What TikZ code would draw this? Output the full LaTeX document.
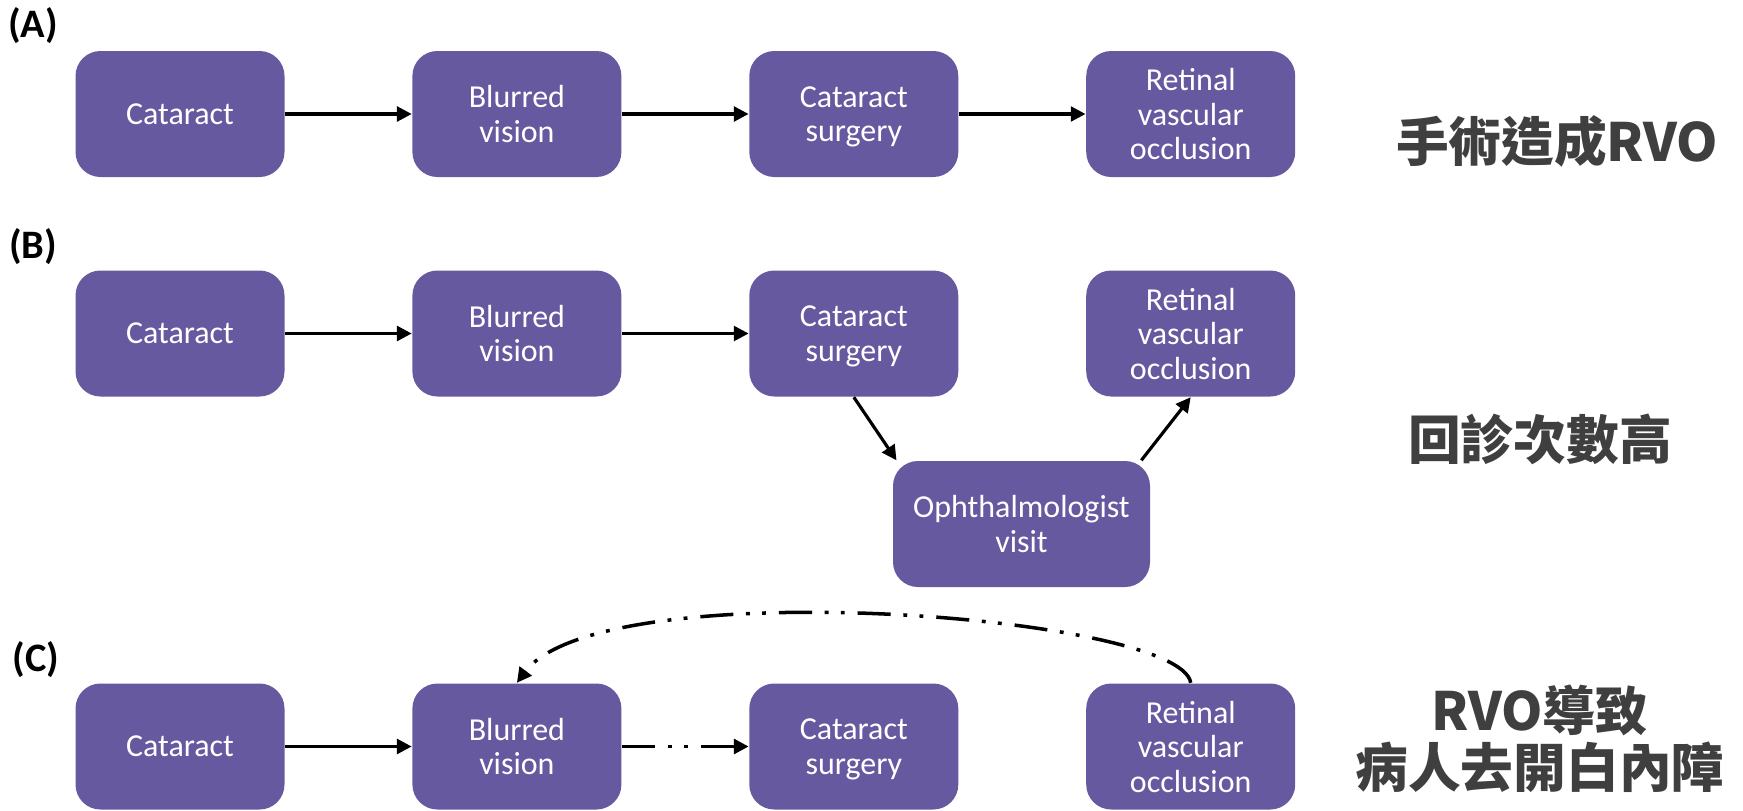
\documentclass[tikz,border=0pt]{standalone}
\usepackage{fontspec}
\setmainfont{Carlito}
\newfontfamily\cjk{Noto Sans CJK TC}
\usetikzlibrary{arrows.meta,calc,positioning}
\definecolor{boxpurple}{RGB}{103,89,159}
\definecolor{notegray}{RGB}{63,63,63}

\begin{document}
\begin{tikzpicture}[
  x=1cm,y=1cm,
  stepbox/.style={fill=boxpurple,rounded corners=2.5mm,
    minimum width=2.09cm,minimum height=1.26cm,inner sep=0pt,
    text depth=0pt,text=white,align=center,
    font=\fontsize{9.1}{9.8}\selectfont},
  flow/.style={-{Triangle[length=4.2pt,width=4.2pt]},line width=0.9pt,black},
  dashdotdot/.style={line width=1pt,dash pattern=on 9.4pt off 3.7pt
    on 1.1pt off 3.5pt on 1.1pt off 3.6pt},
  panel/.style={inner sep=0pt,font=\bfseries\fontsize{11.5}{13}\selectfont},
  note/.style={inner sep=0pt,align=center,text=notegray,
    font=\cjk\bfseries\fontsize{15}{16.2}\selectfont}
]
  \useasboundingbox (0,0) rectangle (17.43,8.10);

  % Box spacing.
  \def\boxgap{1.265cm}

  % The three chains, one per panel.
  \foreach \row/\ypos in {A/6.96,B/4.765,C/0.635}{
    \node[stepbox] (cat\row) at (1.80,\ypos) {Cataract};
    \node[stepbox,right=\boxgap of cat\row] (blur\row) {Blurred\\vision};
    \node[stepbox,right=\boxgap of blur\row] (surg\row) {Cataract\\surgery};
    \node[stepbox,right=\boxgap of surg\row] (rvo\row)
      {Retinal\\vascular\\occlusion};
  }
  \node[stepbox,minimum width=2.57cm] (oph) at (10.215,2.86)
    {Ophthalmologist\\visit};

  % Panel letters and notes.
  \node[panel] (labA) at (0.33,7.84) {(A)};
  \node[panel] (labB) at (0.33,5.63) {(B)};
  \node[panel] (labC) at (0.36,1.50) {(C)};
  \node[note] (noteA) at (15.57,6.69) {手術造成RVO};
  \node[note] (noteB) at (15.40,3.71) {回診次數高};
  \node[note] (noteC) at (15.40,0.71) {RVO導致\\病人去開白內障};

  % (A) surgery before the occlusion.
  \draw[flow] (catA) -- (blurA);
  \draw[flow] (blurA) -- (surgA);
  \draw[flow] (surgA) -- (rvoA);

  % (B) detour through the eye doctor.
  \draw[flow] (catB) -- (blurB);
  \draw[flow] (blurB) -- (surgB);
  \draw[flow] (surgB.south) -- (oph.153);
  \draw[flow] (oph.28) -- (rvoB.south);

  % (C) occlusion back to blurred vision.
  \draw[flow] (catC) -- (blurC);
  \draw[flow,dashdotdot] (blurC) -- (surgC);
  \draw[flow,dashdotdot] (rvoC.north)
    .. controls +(-0.1,0.68) and +(0.84,1.12) .. (blurC.north);
\end{tikzpicture}
\end{document}
